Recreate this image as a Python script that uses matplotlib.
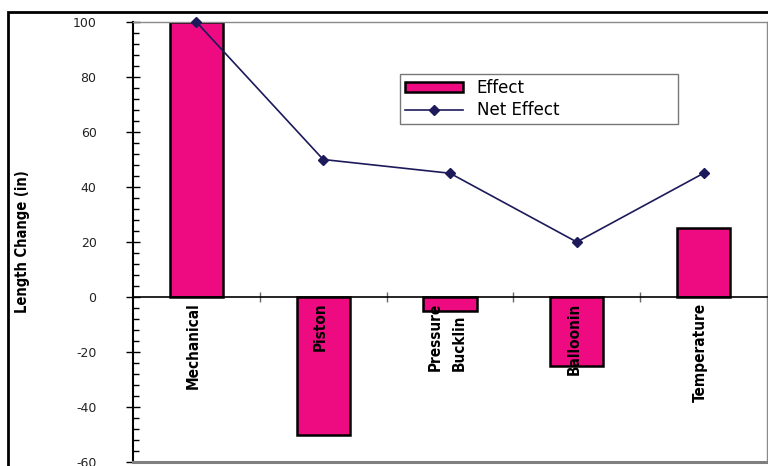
import matplotlib
matplotlib.use("Agg")
import matplotlib.pyplot as plt
from matplotlib.patches import Rectangle
from matplotlib.ticker import MultipleLocator, FuncFormatter

plt.rcParams['axes.unicode_minus'] = False

# Data
categories = ["Mechanical", "Piston", "Pressure\nBucklin", "Balloonin", "Temperature"]
effect = [100, -50, -5, -25, 25]
net_effect = [100, 50, 45, 20, 45]

BAR_COLOR = "#ee0a80"
LINE_COLOR = "#1c1a5a"

W, H = 768, 466
fig = plt.figure(figsize=(W / 100, H / 100), dpi=100)
ax = fig.add_axes([133 / W, 1 - 462 / H, (767 - 133) / W, (462 - 22) / H])

x = list(range(len(categories)))

bars = ax.bar(x, effect, width=0.42, color=BAR_COLOR, edgecolor="black",
              linewidth=1.8, label="Effect", zorder=2)
line, = ax.plot(x, net_effect, color=LINE_COLOR, linewidth=1.2, marker="D",
                markersize=5, markerfacecolor=LINE_COLOR,
                markeredgecolor=LINE_COLOR, label="Net Effect", zorder=4,
                clip_on=False)

ax.set_xlim(-0.5, len(categories) - 0.5)
ax.set_ylim(-60, 100)

# Spines: zero line carries the category dividers, thin grey frame elsewhere
ax.spines["bottom"].set_position(("data", 0))
ax.spines["bottom"].set_color("black")
ax.spines["bottom"].set_linewidth(1.2)
ax.spines["bottom"].set_zorder(3)
ax.spines["left"].set_color("black")
ax.spines["left"].set_linewidth(1.5)
for side in ("top", "right"):
    ax.spines[side].set_color("#8a8a8a")
    ax.spines[side].set_linewidth(1.0)
ax.axhline(-60, color="#7f7f7f", linewidth=2.2, clip_on=False, zorder=3)

ax.set_xticks([i + 0.5 for i in x[:-1]])
ax.tick_params(axis="x", which="major", direction="inout", length=7,
               width=1.0, color="#6a6a6a", labelbottom=False)

ax.yaxis.set_major_locator(MultipleLocator(20))
ax.yaxis.set_minor_locator(MultipleLocator(4))
ax.yaxis.set_major_formatter(FuncFormatter(lambda v, p: f"{int(v)}"))
ax.tick_params(axis="y", which="major", direction="inout", length=10.5,
               width=1.0, color="black", pad=21, labelsize=9,
               labelcolor="#222222")
ax.tick_params(axis="y", which="minor", direction="in", length=4,
               width=1.0, color="black")

ax.set_ylabel("Length Change (in)", family="DejaVu Sans", stretch="condensed",
              fontweight="bold", fontsize=10.5, labelpad=0)
ax.yaxis.set_label_coords(-(133 - 30) / (767 - 133), 0.5)

# Category names hang just below the zero line
for xi, name in zip(x, categories):
    ax.annotate(name, xy=(xi, 0), xytext=(-2, -4), textcoords="offset points",
                rotation=90, ha="center", va="top", multialignment="left",
                family="DejaVu Sans", stretch="condensed", fontweight="bold",
                fontsize=11, linespacing=1.75, zorder=5)

leg = ax.legend([bars, line], ["Effect", "Net Effect"], loc="upper left",
                bbox_to_anchor=(400 / W, 1 - 124 / H, 278 / W, 50 / H),
                bbox_transform=fig.transFigure, mode="expand",
                borderaxespad=0, fancybox=False, frameon=True,
                fontsize=12, handlelength=3.5, handleheight=0.5,
                handletextpad=0.8, labelspacing=0.25, borderpad=0.3)
leg.get_frame().set_edgecolor("#555555")
leg.get_frame().set_linewidth(1.0)

# Outer chart frame
fig.patches.append(Rectangle((8 / W, -0.05), 1.1, 1 - 12 / H + 0.05,
                             transform=fig.transFigure, fill=False,
                             edgecolor="black", linewidth=2.0))

fig.savefig("out.png", dpi=100)
